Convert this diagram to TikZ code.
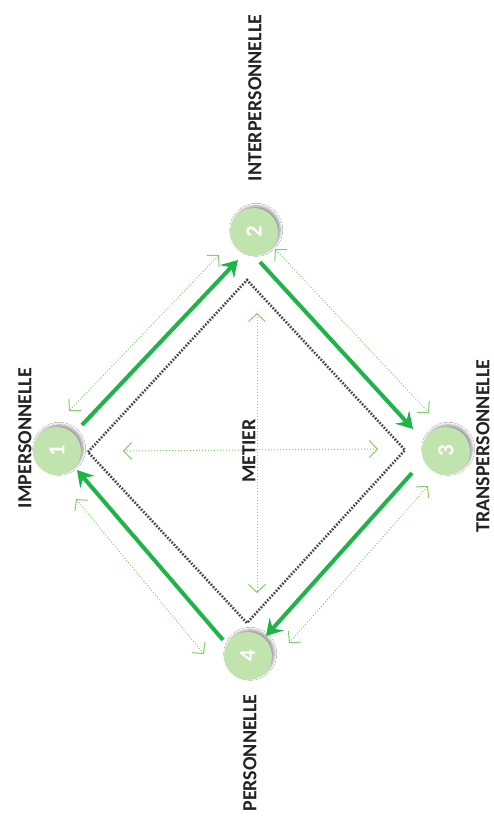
\documentclass[tikz,border=0pt]{standalone}
\usepackage{fontspec}
\setmainfont{Carlito}
\usetikzlibrary{arrows.meta,shadows.blur}
\definecolor{thickgreen}{RGB}{30,180,72}
\definecolor{thingreen}{RGB}{130,205,110}
\definecolor{circfill}{RGB}{193,228,175}
\definecolor{labelgray}{RGB}{35,35,35}
\begin{document}
\begin{tikzpicture}[x=1pt,y=-1pt,
  numcirc/.style={circle,fill=circfill,minimum size=48pt,inner sep=0pt,text=white,
    font=\fontsize{23}{24}\selectfont\bfseries,rotate=90,
    blur shadow={shadow xshift=2.2pt,shadow yshift=2.2pt,shadow blur radius=2.5pt,shadow blur steps=8,shadow opacity=40}},
  lbl/.style={rotate=90,text=labelgray,font=\fontsize{20}{24}\selectfont\bfseries,inner sep=0pt},
  thickarrow/.style={draw=thickgreen,line width=4pt,-{Stealth[length=16pt,width=19pt,inset=6pt]}},
  thinarrow/.style={draw=thingreen,line width=1pt,dotted,
    {Straight Barb[length=8pt,width=17pt,line width=1pt]}-{Straight Barb[length=8pt,width=17pt,line width=1pt]}},
  diam/.style={draw=black!70,line width=2.6pt,dash pattern=on 1.7pt off 1.5pt}
]
\useasboundingbox (0,0) rectangle (493,822);
\fill[white] (0,0) rectangle (493,822);

% diamond corners
\coordinate (dl) at (88,452);
\coordinate (dt) at (247,280);
\coordinate (dr) at (405,450);
\coordinate (db) at (247,623);
\draw[diam] (dl) -- (dt) -- (dr) -- (db) -- cycle;

% inner cross
\coordinate (vt) at (257,313);
\coordinate (vb) at (257,593);
\coordinate (hl) at (123,451);
\coordinate (hr) at (378,449);
\draw[thinarrow] (vt) -- (vb);
\draw[thinarrow] (hl) -- (hr);

\node[lbl] (metier) at (249,451) {METIER};

% circles
\node[numcirc] (n1) at (57,451) {1};
\node[numcirc] (n2) at (254,232) {2};
\node[numcirc] (n3) at (446,451) {3};
\node[numcirc] (n4) at (248,656) {4};

% labels
\node[lbl] (l1) at (25,438) {IMPERSONNELLE};
\node[lbl] (l2) at (255,98) {INTERPERSONNELLE};
\node[lbl] (l3) at (483,446) {TRANSPERSONNELLE};
\node[lbl] (l4) at (250,753) {PERSONNELLE};

% thick arrows
\coordinate (a1s) at (82,425);  \coordinate (a1e) at (238,260);
\coordinate (a2s) at (260,262); \coordinate (a2e) at (413,429);
\coordinate (a3s) at (412,473); \coordinate (a3e) at (266,636);
\coordinate (a4s) at (223,640); \coordinate (a4e) at (77,470);
\draw[thickarrow] (a1s) -- (a1e);
\draw[thickarrow] (a2s) -- (a2e);
\draw[thickarrow] (a3s) -- (a3e);
\draw[thickarrow] (a4s) -- (a4e);

% thin outer double arrows
\coordinate (b1s) at (69,411);  \coordinate (b1e) at (219,255);
\coordinate (b2s) at (275,249); \coordinate (b2e) at (429,413);
\coordinate (b3s) at (428,486); \coordinate (b3e) at (289,643);
\coordinate (b4s) at (76,499);  \coordinate (b4e) at (204,654);
\draw[thinarrow] (b1s) -- (b1e);
\draw[thinarrow] (b2s) -- (b2e);
\draw[thinarrow] (b3s) -- (b3e);
\draw[thinarrow] (b4s) -- (b4e);
\end{tikzpicture}
\end{document}
